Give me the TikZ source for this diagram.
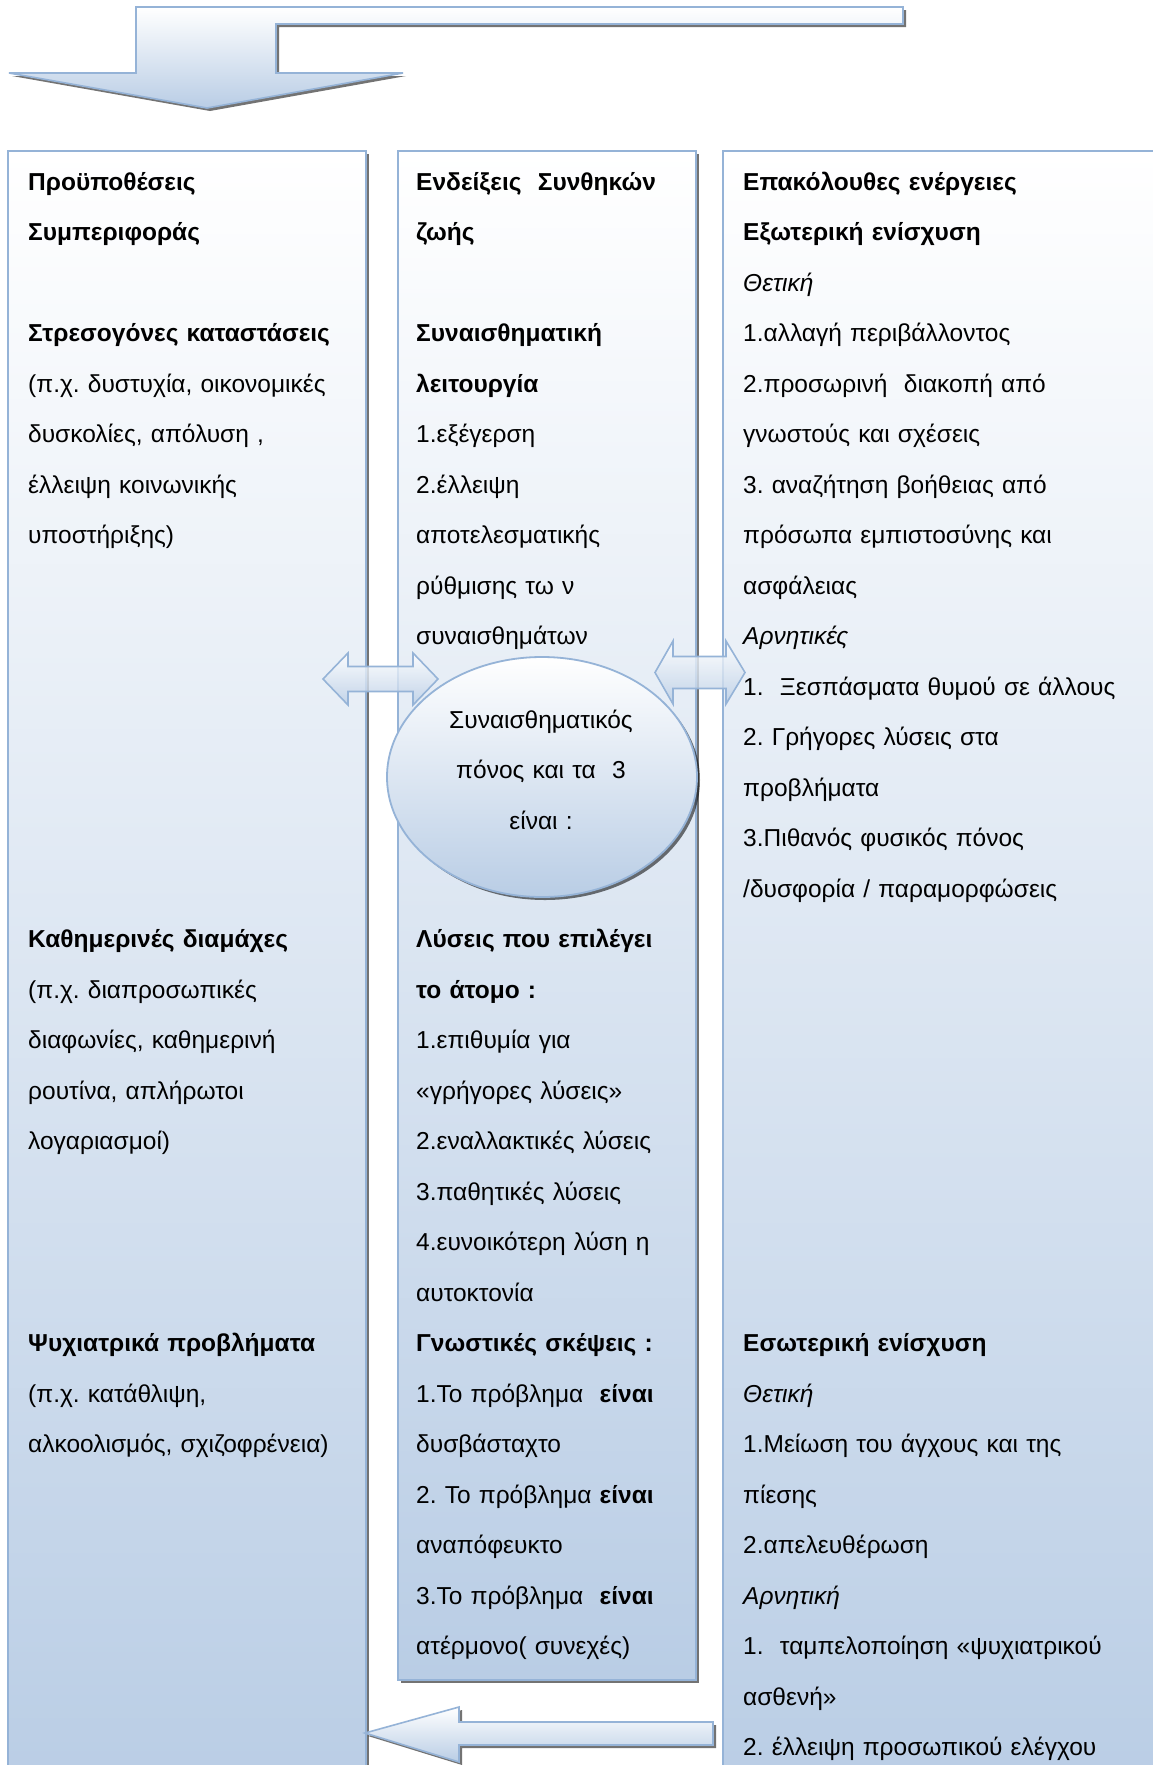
\documentclass[tikz,border=0pt]{standalone}
\usepackage{fontspec}
\setmainfont{Liberation Sans}
\usetikzlibrary{shadows}
\setlength\parindent{0pt}
\frenchspacing

\definecolor{edgeblue}{HTML}{95B3D7}
\definecolor{fillblue}{HTML}{B9CDE5}

% strut fixing the height of the first line of every text block
\newcommand\firstln{\rule{0pt}{22pt}}

\begin{document}
\begin{tikzpicture}[x=1pt,y=-1pt,
  shadowed/.style={drop shadow={shadow xshift=3pt,shadow yshift=-3pt,fill=black,opacity=0.55}},
  panel/.style={shadowed,draw=edgeblue,line width=1.8pt,top color=white,bottom color=fillblue},
  blockarrow/.style={shadowed,draw=edgeblue,line width=1.6pt,top color=white,bottom color=fillblue,line join=miter},
  twoway/.style={draw=edgeblue,line width=1.6pt,top color=white,bottom color=fillblue,fill opacity=0.8},
  txt/.style={anchor=north west,inner sep=0pt,align=left,text width=430pt,
    font=\fontsize{24.5}{50.5}\selectfont},
  midtxt/.style={anchor=north,inner sep=0pt,align=center,text width=300pt,
    font=\fontsize{24.5}{50.5}\selectfont}]

\useasboundingbox (0,0) rectangle (1153,1765);
\clip (0,0) rectangle (1153,1765);
\fill[white] (0,0) rectangle (1153,1765);

% bent arrow at the top
\path[blockarrow] (136,7) -- (903,7) -- (903,24) -- (276,24) -- (276,73)
  -- (403,73) -- (207,108) -- (9,73) -- (136,73) -- cycle;

% the three columns
\path[panel] (8,151) rectangle (366,1800);
\path[panel] (398,151) rectangle (696,1680);
\path[panel] (723,151) rectangle (1190,1800);

% two-way arrows between the columns
\path[twoway] (323,679) -- (348,653) -- (348,666.5) -- (413,666.5) -- (413,653)
  -- (438,679) -- (413,705) -- (413,691.5) -- (348,691.5) -- (348,705) -- cycle;
\path[twoway] (655,672.5) -- (673,641) -- (673,656.5) -- (726,656.5) -- (726,641)
  -- (745,672.5) -- (726,704) -- (726,688.5) -- (673,688.5) -- (673,704) -- cycle;

% central ellipse
\path[panel] (542,777) ellipse [x radius=155,y radius=120];

% return arrow at the bottom
\path[blockarrow] (365,1733) -- (459,1707) -- (459,1722) -- (713,1722)
  -- (713,1745) -- (459,1745) -- (459,1762) -- cycle;

% left column
\node[txt] (cond) at (28,168) {\firstln\textbf{Προϋποθέσεις}\\\textbf{Συμπεριφοράς}};
\node[txt] (stress) at (28,319.5) {\firstln\textbf{Στρεσογόνες καταστάσεις}\\
  (π.χ. δυστυχία, οικονομικές\\δυσκολίες, απόλυση ,\\έλλειψη κοινωνικής\\υποστήριξης)};
\node[txt] (daily) at (28,925.5) {\firstln\textbf{Καθημερινές διαμάχες}\\
  (π.χ. διαπροσωπικές\\διαφωνίες, καθημερινή\\ρουτίνα, απλήρωτοι\\λογαριασμοί)};
\node[txt] (psych) at (28,1329.5) {\firstln\textbf{Ψυχιατρικά προβλήματα}\\
  (π.χ. κατάθλιψη,\\αλκοολισμός, σχιζοφρένεια)};

% middle column
\node[txt] (signs) at (416,168) {\firstln\textbf{Ενδείξεις~ Συνθηκών}\\\textbf{ζωής}};
\node[txt] (emot) at (416,319.5) {\firstln\textbf{Συναισθηματική}\\\textbf{λειτουργία}\\
  1.εξέγερση\\2.έλλειψη\\αποτελεσματικής\\ρύθμισης τω ν\\συναισθημάτων};
\node[midtxt] (pain) at (541,706) {\firstln Συναισθηματικός\\πόνος και τα~ 3\\είναι :};
\node[txt] (solut) at (416,925.5) {\firstln\textbf{Λύσεις που επιλέγει}\\\textbf{το άτομο :}\\
  1.επιθυμία για\\«γρήγορες λύσεις»\\2.εναλλακτικές λύσεις\\3.παθητικές λύσεις\\
  4.ευνοικότερη λύση η\\αυτοκτονία\\\textbf{Γνωστικές σκέψεις :}\\
  1.Το πρόβλημα~ \textbf{είναι}\\δυσβάσταχτο\\2. Το πρόβλημα \textbf{είναι}\\
  αναπόφευκτο\\3.Το πρόβλημα~ \textbf{είναι}\\ατέρμονο( συνεχές)};

% right column
\node[txt] (conseq) at (743,168) {\firstln\textbf{Επακόλουθες ενέργειες}\\
  \textbf{Εξωτερική ενίσχυση}\\\textit{Θετική}\\1.αλλαγή περιβάλλοντος\\
  2.προσωρινή~ διακοπή από\\γνωστούς και σχέσεις\\3. αναζήτηση βοήθειας από\\
  πρόσωπα εμπιστοσύνης και\\ασφάλειας\\\textit{Αρνητικές}\\
  1.~ Ξεσπάσματα θυμού σε άλλους\\2. Γρήγορες λύσεις στα\\προβλήματα\\
  3.Πιθανός φυσικός πόνος\\/δυσφορία / παραμορφώσεις};
\node[txt] (inner) at (743,1329.5) {\firstln\textbf{Εσωτερική ενίσχυση}\\\textit{Θετική}\\
  1.Μείωση του άγχους και της\\πίεσης\\2.απελευθέρωση\\\textit{Αρνητική}\\
  1.~ ταμπελοποίηση «ψυχιατρικού\\ασθενή»\\2. έλλειψη προσωπικού ελέγχου};
\end{tikzpicture}
\end{document}
